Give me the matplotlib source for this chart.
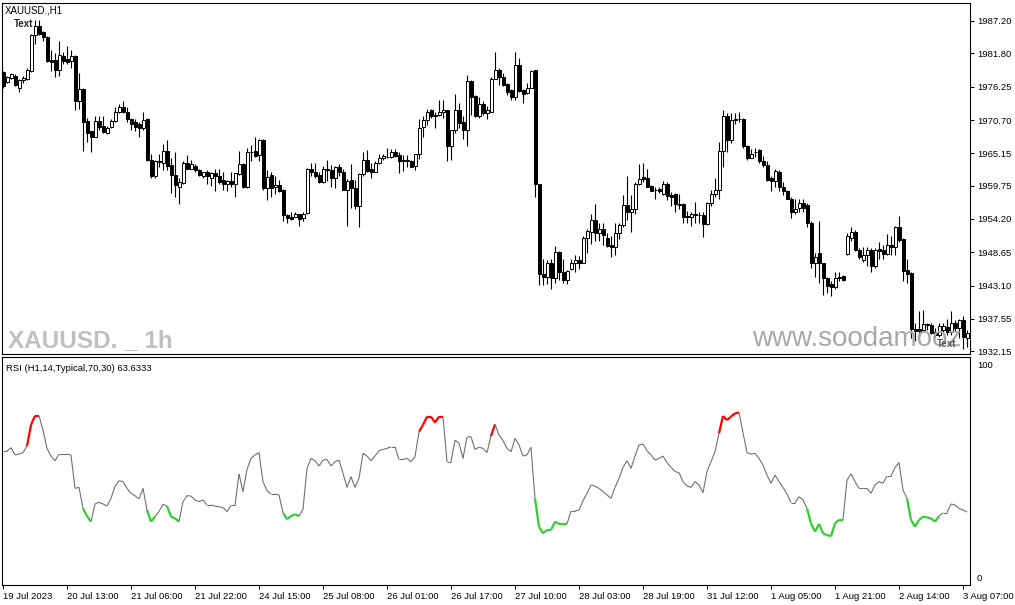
import matplotlib
matplotlib.use("Agg")
import matplotlib.pyplot as plt
from matplotlib.collections import LineCollection

# XAUUSD H1 velas
opens = [1978.7, 1977.1, 1977.7, 1978.1, 1976.1, 1977.3, 1977.6, 1978.9, 1984.9, 1986.4,
         1985.3, 1984.6, 1980.7, 1980.7, 1979.1, 1981.4, 1980.9, 1980.5, 1981.4, 1973.8,
         1975.8, 1970.6, 1968.8, 1967.9, 1970.5, 1969.7, 1968.6, 1969.6, 1970.5, 1972.1,
         1972.8, 1972.1, 1970.9, 1970.3, 1970.0, 1969.3, 1970.8, 1964.1, 1961.3, 1963.9,
         1963.5, 1965.6, 1963.2, 1961.5, 1959.6, 1960.2, 1963.5, 1962.6, 1963.1, 1962.4,
         1961.4, 1962.0, 1961.1, 1961.9, 1961.4, 1960.7, 1960.1, 1960.6, 1960.0, 1961.7,
         1963.3, 1959.6, 1965.3, 1965.5, 1964.9, 1967.4, 1959.4, 1961.5, 1959.5, 1959.9,
         1959.0, 1954.9, 1954.5, 1954.6, 1955.0, 1954.3, 1955.2, 1962.5, 1962.1, 1961.5,
         1960.4, 1962.6, 1962.4, 1961.1, 1962.8, 1962.0, 1959.1, 1960.7, 1959.3, 1956.4,
         1961.7, 1964.1, 1962.5, 1962.1, 1963.5, 1964.3, 1964.5, 1964.5, 1965.3, 1964.9,
         1964.0, 1964.0, 1963.9, 1963.1, 1965.0, 1969.5, 1970.7, 1972.3, 1971.5, 1971.5,
         1972.1, 1972.3, 1966.4, 1969.0, 1972.4, 1970.3, 1969.1, 1977.2, 1974.7, 1971.4,
         1973.4, 1971.9, 1972.1, 1977.6, 1979.1, 1977.8, 1976.7, 1975.7, 1974.6, 1979.9,
         1975.7, 1975.2, 1976.1, 1979.0, 1960.0, 1945.1, 1944.5, 1946.8, 1944.3, 1948.7,
         1945.4, 1944.0, 1945.9, 1946.8, 1947.4, 1946.9, 1951.0, 1952.1, 1954.1, 1951.8,
         1952.6, 1951.1, 1949.8, 1949.6, 1951.8, 1953.2, 1956.5, 1955.3, 1955.8, 1960.1,
         1961.2, 1961.1, 1959.7, 1959.1, 1959.2, 1958.4, 1960.0, 1958.2, 1958.4, 1956.7,
         1956.7, 1954.7, 1954.5, 1954.8, 1954.9, 1954.9, 1953.4, 1956.8, 1958.4, 1959.0,
         1965.5, 1971.4, 1967.3, 1970.7, 1970.8, 1970.9, 1966.4, 1964.4, 1965.4, 1965.7,
         1963.9, 1963.2, 1961.0, 1960.6, 1962.1, 1959.6, 1958.9, 1957.6, 1955.4, 1956.0,
         1956.8, 1956.5, 1953.6, 1946.8, 1948.6, 1946.8, 1944.3, 1943.4, 1942.8, 1944.5,
         1944.7, 1948.3, 1951.1, 1952.1, 1949.1, 1947.4, 1948.2, 1949.1, 1946.3, 1949.2,
         1949.1, 1948.4, 1949.9, 1949.6, 1952.8, 1950.8, 1945.7, 1945.2, 1935.8, 1935.8,
         1935.7, 1936.6, 1936.5, 1935.3, 1934.9, 1935.7, 1936.2, 1935.4, 1936.8, 1936.1,
         1937.4, 1934.3]
highs = [1978.9, 1978.0, 1978.6, 1978.4, 1977.6, 1978.0, 1979.3, 1985.1, 1987.3, 1987.4,
         1985.5, 1984.7, 1982.4, 1981.8, 1983.9, 1982.1, 1983.0, 1982.4, 1981.5, 1978.5,
         1976.0, 1971.0, 1968.9, 1971.3, 1971.4, 1971.4, 1969.7, 1970.8, 1972.9, 1973.4,
         1973.8, 1972.9, 1971.1, 1970.8, 1970.4, 1972.0, 1971.0, 1965.1, 1964.0, 1965.1,
         1966.7, 1967.4, 1964.3, 1965.4, 1961.0, 1963.8, 1964.9, 1964.1, 1963.3, 1962.6,
         1962.1, 1962.3, 1962.0, 1962.6, 1962.6, 1962.1, 1960.7, 1962.1, 1961.9, 1965.6,
         1963.5, 1966.1, 1966.5, 1967.8, 1967.6, 1967.5, 1962.4, 1962.1, 1961.4, 1960.7,
         1959.2, 1955.1, 1955.4, 1955.3, 1955.1, 1955.4, 1962.7, 1963.6, 1963.5, 1962.0,
         1963.0, 1964.0, 1963.2, 1963.0, 1963.4, 1962.5, 1960.8, 1963.4, 1960.7, 1961.9,
         1965.3, 1965.7, 1963.6, 1963.8, 1965.1, 1965.0, 1966.1, 1965.8, 1965.8, 1965.4,
         1964.9, 1964.9, 1964.0, 1965.1, 1970.9, 1971.3, 1972.5, 1972.5, 1972.1, 1974.0,
         1974.0, 1972.4, 1969.1, 1975.0, 1973.5, 1971.3, 1978.2, 1977.4, 1974.9, 1974.6,
         1973.9, 1973.0, 1977.8, 1982.0, 1979.3, 1978.6, 1976.9, 1975.8, 1982.0, 1981.0,
         1975.8, 1976.8, 1979.0, 1979.1, 1960.1, 1947.6, 1947.4, 1947.6, 1949.7, 1948.9,
         1947.5, 1945.7, 1947.5, 1948.2, 1948.0, 1951.4, 1952.5, 1955.0, 1956.7, 1953.6,
         1953.5, 1951.8, 1951.3, 1953.6, 1953.6, 1958.2, 1961.3, 1958.2, 1960.4, 1963.4,
         1963.6, 1962.5, 1959.9, 1959.6, 1959.6, 1960.6, 1960.4, 1958.7, 1958.6, 1958.4,
         1956.9, 1955.6, 1955.4, 1957.1, 1955.3, 1955.3, 1957.1, 1959.1, 1961.0, 1967.1,
         1972.4, 1971.9, 1971.9, 1971.9, 1972.1, 1971.0, 1966.5, 1965.8, 1966.0, 1965.8,
         1964.7, 1963.8, 1961.4, 1962.6, 1962.4, 1960.3, 1959.1, 1957.8, 1957.5, 1957.6,
         1957.5, 1956.8, 1953.8, 1948.6, 1953.8, 1946.9, 1944.5, 1943.8, 1945.4, 1945.4,
         1944.9, 1951.9, 1952.9, 1952.3, 1949.3, 1949.6, 1949.5, 1949.3, 1949.3, 1950.3,
         1949.9, 1951.7, 1951.3, 1953.0, 1954.7, 1951.0, 1947.6, 1945.4, 1936.8, 1938.8,
         1939.1, 1936.8, 1936.8, 1936.1, 1936.8, 1936.8, 1937.5, 1938.9, 1937.4, 1937.5,
         1938.0, 1935.7]
lows = [1976.0, 1976.9, 1977.5, 1976.4, 1975.4, 1976.8, 1977.4, 1978.7, 1983.4, 1984.9,
        1983.9, 1980.4, 1978.8, 1977.8, 1978.0, 1980.1, 1980.0, 1979.3, 1972.4, 1972.6,
        1965.6, 1967.1, 1965.3, 1967.8, 1969.0, 1968.5, 1968.4, 1969.4, 1970.3, 1971.8,
        1971.9, 1970.3, 1969.0, 1968.9, 1967.9, 1969.0, 1963.8, 1961.0, 1961.0, 1962.9,
        1962.4, 1962.3, 1958.5, 1957.9, 1956.7, 1960.0, 1962.5, 1962.5, 1962.1, 1961.3,
        1961.1, 1960.1, 1959.7, 1958.9, 1960.1, 1959.1, 1958.9, 1959.6, 1957.9, 1961.5,
        1959.3, 1959.4, 1963.8, 1964.5, 1963.8, 1959.0, 1957.3, 1957.8, 1958.4, 1958.7,
        1953.9, 1953.5, 1954.0, 1954.5, 1953.1, 1953.8, 1955.1, 1961.4, 1961.0, 1960.2,
        1960.2, 1960.5, 1959.6, 1959.3, 1961.3, 1959.0, 1953.1, 1956.1, 1955.8, 1952.9,
        1961.4, 1962.1, 1961.1, 1962.0, 1963.3, 1964.0, 1964.3, 1964.3, 1964.6, 1961.9,
        1962.2, 1962.9, 1962.8, 1962.3, 1964.2, 1967.9, 1969.9, 1971.0, 1969.4, 1971.3,
        1971.1, 1963.8, 1964.1, 1968.5, 1969.3, 1967.6, 1966.4, 1971.5, 1971.2, 1971.1,
        1971.5, 1970.8, 1972.0, 1977.5, 1976.5, 1976.4, 1974.9, 1974.1, 1974.1, 1975.4,
        1973.5, 1975.0, 1976.0, 1957.9, 1943.2, 1943.2, 1943.4, 1942.5, 1943.5, 1944.0,
        1943.6, 1943.4, 1945.7, 1945.3, 1945.8, 1946.8, 1948.5, 1950.1, 1950.6, 1950.6,
        1949.9, 1949.5, 1947.9, 1948.2, 1950.8, 1952.9, 1954.0, 1952.1, 1955.1, 1959.9,
        1960.3, 1959.5, 1958.8, 1957.5, 1958.5, 1958.2, 1957.3, 1956.3, 1955.4, 1955.9,
        1953.6, 1953.6, 1953.0, 1953.6, 1953.6, 1951.2, 1953.2, 1956.3, 1957.8, 1957.5,
        1962.8, 1965.4, 1966.8, 1970.1, 1970.3, 1966.1, 1964.1, 1964.3, 1964.6, 1963.6,
        1962.9, 1960.6, 1958.9, 1959.6, 1958.8, 1958.2, 1957.5, 1954.3, 1955.0, 1955.3,
        1955.3, 1952.9, 1946.0, 1944.5, 1943.5, 1941.5, 1941.8, 1941.4, 1942.6, 1943.9,
        1943.9, 1948.2, 1950.6, 1948.9, 1947.6, 1947.1, 1946.4, 1945.3, 1946.1, 1947.6,
        1947.6, 1948.2, 1948.2, 1948.2, 1950.4, 1943.8, 1943.6, 1934.3, 1933.9, 1934.3,
        1935.6, 1935.7, 1935.0, 1934.6, 1934.5, 1935.4, 1934.9, 1934.9, 1935.6, 1934.3,
        1932.5, 1932.9]
closes = [1976.3, 1977.8, 1978.3, 1976.5, 1977.4, 1977.7, 1979.0, 1984.9, 1986.4, 1985.0,
          1984.5, 1980.6, 1980.4, 1979.0, 1981.5, 1980.5, 1980.4, 1981.4, 1973.8, 1975.8,
          1970.4, 1968.6, 1967.9, 1970.5, 1969.6, 1968.7, 1969.4, 1970.6, 1972.1, 1972.9,
          1972.0, 1970.8, 1970.1, 1969.6, 1969.3, 1970.7, 1964.0, 1961.3, 1963.9, 1963.7,
          1965.6, 1963.1, 1961.5, 1959.8, 1960.3, 1963.6, 1962.6, 1963.3, 1962.4, 1961.5,
          1962.0, 1961.3, 1961.9, 1961.3, 1960.4, 1960.0, 1960.6, 1960.0, 1961.8, 1963.3,
          1959.5, 1965.3, 1965.4, 1964.7, 1967.4, 1959.4, 1961.2, 1959.4, 1959.9, 1958.9,
          1954.8, 1954.3, 1954.2, 1955.0, 1954.2, 1955.1, 1962.5, 1962.1, 1961.4, 1960.4,
          1962.5, 1962.3, 1961.1, 1962.8, 1962.1, 1959.1, 1960.6, 1959.3, 1956.4, 1961.7,
          1964.1, 1962.2, 1962.0, 1963.5, 1964.3, 1964.7, 1964.6, 1965.3, 1964.7, 1963.8,
          1963.8, 1963.8, 1962.9, 1965.0, 1969.3, 1970.7, 1972.1, 1971.3, 1971.3, 1972.1,
          1972.3, 1966.4, 1969.0, 1972.4, 1970.2, 1969.1, 1977.2, 1974.6, 1971.4, 1973.4,
          1971.9, 1972.4, 1977.6, 1979.1, 1977.8, 1976.5, 1975.4, 1974.6, 1979.9, 1975.6,
          1975.1, 1976.1, 1978.9, 1960.1, 1945.1, 1944.5, 1946.8, 1944.3, 1948.7, 1945.3,
          1944.1, 1945.5, 1946.8, 1947.4, 1946.9, 1951.1, 1952.2, 1954.1, 1951.8, 1952.6,
          1951.5, 1949.7, 1949.5, 1951.8, 1953.2, 1956.5, 1955.4, 1955.8, 1960.1, 1960.8,
          1960.9, 1959.6, 1958.9, 1959.0, 1958.9, 1960.0, 1958.0, 1957.9, 1956.7, 1956.6,
          1954.6, 1954.5, 1955.0, 1955.0, 1954.8, 1953.4, 1956.8, 1958.4, 1959.0, 1965.5,
          1971.4, 1967.3, 1970.7, 1970.9, 1970.9, 1966.4, 1964.3, 1965.0, 1965.3, 1963.8,
          1963.2, 1960.7, 1960.6, 1962.2, 1959.6, 1958.9, 1957.6, 1955.4, 1955.9, 1956.9,
          1956.0, 1953.5, 1946.8, 1947.9, 1946.8, 1944.3, 1943.0, 1942.8, 1944.4, 1944.4,
          1944.1, 1951.3, 1952.1, 1949.1, 1947.8, 1948.2, 1949.1, 1946.3, 1949.0, 1948.9,
          1948.4, 1949.9, 1949.6, 1952.8, 1950.7, 1945.6, 1945.1, 1935.8, 1935.6, 1935.6,
          1936.7, 1936.7, 1935.2, 1934.9, 1936.4, 1936.4, 1935.4, 1936.8, 1936.1, 1937.4,
          1934.6, 1935.2]

rsi = [59.2, 59.2, 60.7, 57.3, 57.7, 58.4, 61.5, 71.4, 75.7, 75.7,
       69.0, 60.4, 56.8, 54.6, 57.7, 57.7, 57.7, 57.3, 41.6, 42.1,
       32.2, 28.6, 26.0, 34.3, 35.1, 34.3, 33.3, 36.9, 42.7, 45.2,
       44.8, 41.6, 39.3, 38.2, 36.6, 41.6, 31.5, 26.0, 28.3, 30.8,
       34.1, 33.3, 28.3, 27.5, 26.0, 35.4, 38.2, 38.0, 36.2, 35.4,
       36.2, 33.8, 33.8, 33.3, 33.0, 32.6, 30.7, 33.6, 33.6, 48.4,
       40.1, 50.5, 55.7, 57.3, 58.4, 44.8, 40.5, 39.0, 39.0, 38.5,
       30.2, 27.1, 28.6, 29.5, 28.6, 31.8, 51.0, 55.7, 54.6, 52.1,
       54.9, 55.2, 52.1, 54.1, 54.9, 48.7, 42.1, 47.1, 42.1, 46.3,
       58.1, 56.8, 54.6, 56.8, 59.3, 59.9, 60.4, 61.2, 61.2, 55.2,
       55.2, 55.7, 54.1, 56.5, 68.2, 71.4, 75.3, 75.3, 72.5, 75.3,
       75.3, 54.1, 54.1, 64.3, 62.8, 55.7, 65.6, 65.9, 59.9, 60.9,
       60.4, 58.4, 66.2, 71.7, 66.7, 64.0, 60.4, 58.8, 65.1, 62.0,
       56.8, 57.3, 60.9, 36.9, 23.6, 20.5, 22.1, 22.1, 26.0, 24.9,
       24.9, 24.9, 31.0, 31.0, 31.5, 35.8, 39.3, 43.2, 42.7, 41.6,
       40.1, 38.5, 36.9, 42.1, 46.3, 51.5, 54.6, 51.0, 56.8, 62.0,
       62.4, 59.3, 57.3, 54.9, 55.7, 56.8, 53.7, 51.5, 49.5, 49.0,
       44.8, 42.7, 42.1, 44.8, 43.2, 39.6, 49.5, 54.1, 58.8, 67.4,
       75.6, 73.7, 75.3, 76.8, 77.2, 67.8, 58.4, 57.7, 58.1, 55.7,
       52.6, 47.9, 44.0, 47.9, 44.8, 42.1, 39.0, 34.9, 34.9, 37.7,
       36.2, 32.2, 25.2, 21.3, 24.9, 20.5, 19.7, 19.2, 25.2, 26.8,
       26.8, 45.5, 48.4, 44.8, 41.6, 41.6, 41.6, 39.3, 43.2, 44.8,
       44.0, 47.4, 47.4, 51.5, 53.7, 40.8, 36.9, 26.8, 23.6, 26.8,
       28.3, 28.0, 27.5, 26.0, 28.6, 30.2, 30.2, 34.3, 33.8, 32.2,
       31.5, 30.5]

precios_eje = [1987.20, 1981.80, 1976.25, 1970.70, 1965.15, 1959.75,
               1954.20, 1948.65, 1943.10, 1937.55, 1932.15]
fechas = ["19 Jul 2023", "20 Jul 13:00", "21 Jul 06:00", "21 Jul 22:00",
          "24 Jul 15:00", "25 Jul 08:00", "26 Jul 01:00", "26 Jul 17:00",
          "27 Jul 10:00", "28 Jul 03:00", "28 Jul 19:00", "31 Jul 12:00",
          "1 Aug 05:00", "1 Aug 21:00", "2 Aug 14:00", "3 Aug 07:00"]

plt.rcParams['font.family'] = ['Liberation Sans', 'DejaVu Sans']

n = len(closes)
x = list(range(n))

fig = plt.figure(figsize=(10.15, 6.05), dpi=100)
ax = fig.add_axes([2/1015, 1 - 354/605, 968/1015, 351/605])
ax2 = fig.add_axes([2/1015, 1 - 585/605, 968/1015, 228/605])

#Velas
ax.vlines(x, lows, highs, color='black', linewidth=0.8, zorder=2)
base = [min(o, c) for o, c in zip(opens, closes)]
alto = [abs(c - o) for o, c in zip(opens, closes)]
colores = ['white' if c >= o else 'black' for o, c in zip(opens, closes)]
ax.bar(x, alto, bottom=base, width=0.75, color=colores, edgecolor='black',
       linewidth=0.7, zorder=3)

ax.set_xlim(-0.25, 241.75)
ax.set_ylim(1931.7, 1990.2)
ax.set_xticks([])
ax.yaxis.tick_right()
ax.set_yticks(precios_eje)
ax.set_yticklabels([f"{p:.2f}" for p in precios_eje])
ax.tick_params(axis='y', length=3, width=0.7, pad=2, labelsize=6.8)
for s in ax.spines.values():
    s.set_linewidth(0.8)

# textos del grafico principal
ax.text(0.003, 0.98, "XAUUSD.,H1", transform=ax.transAxes, fontsize=7,
        va='center')
ax.text(2.75, 1986.7, "Text", fontsize=7, fontweight='bold', color='#222222',
        va='center')
ax.text(1.3, 1932.9, "XAUUSD. _ 1h", fontsize=17.5, fontweight='bold',
        color='#c0c0c0', va='baseline')
ax.text(187.2, 1933.0, "www.soodamooz", fontsize=20, color='#a8a8a8',
        va='baseline', clip_on=True)
ax.text(233.5, 1933.4, "Text", fontsize=7, fontweight='bold', color='#555555',
        va='center')

#RSI
segmentos = []
col_seg = []
ancho_seg = []
for i in range(1, n):
    segmentos.append([(i - 1, rsi[i - 1]), (i, rsi[i])])
    if rsi[i] > 70:
        col_seg.append('#ff0000')
        ancho_seg.append(1.6)
    elif rsi[i] < 30:
        col_seg.append('#32cd32')
        ancho_seg.append(1.6)
    else:
        col_seg.append('#707070')
        ancho_seg.append(0.8)
ax2.add_collection(LineCollection(segmentos, colors=col_seg, linewidths=ancho_seg))

ax2.set_xlim(-0.25, 241.75)
ax2.set_ylim(-3.75, 103.3)
ax2.yaxis.tick_right()
ax2.set_yticks([100, 0])
ax2.set_yticklabels(["100", "0"])
ax2.tick_params(axis='y', length=0, pad=5, labelsize=6.8)
ax2.set_xticks(list(range(0, n, 16)))
ax2.set_xticklabels(fechas, ha='left')
ax2.tick_params(axis='x', length=3, width=0.7, pad=2, labelsize=6.8)
for s in ax2.spines.values():
    s.set_linewidth(0.8)
ax2.text(0.004, 0.95, "RSI (H1,14,Typical,70,30) 63.6333", transform=ax2.transAxes,
         fontsize=6.8, va='center')

fig.savefig("out.png", dpi=100)
plt.close()
